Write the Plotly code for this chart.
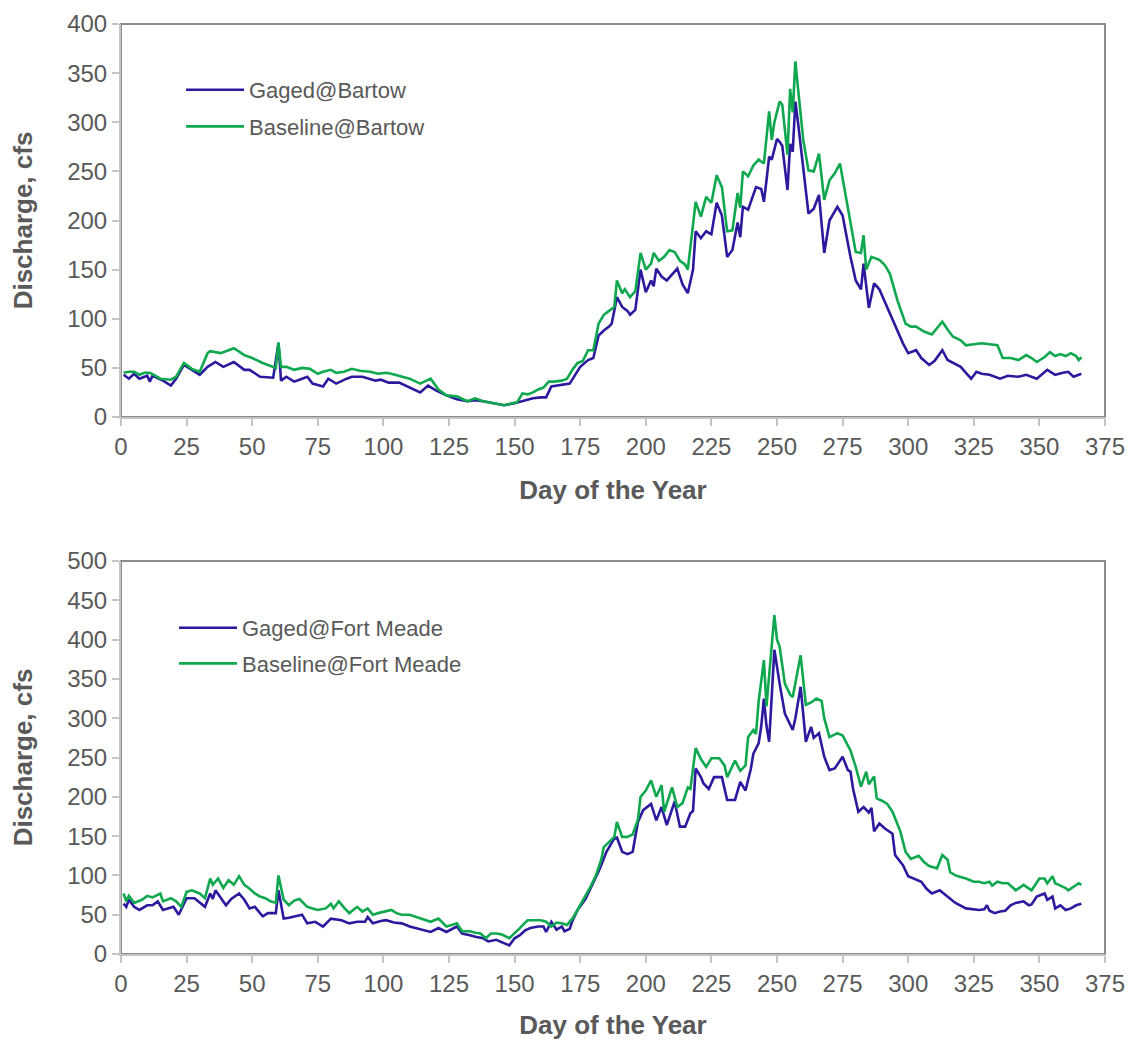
import plotly.graph_objects as go

# ---------------- Data ----------------
bartow_gaged_days = [1,3,5,7,10,11,12,16,19,21,24,27,30,33,36,39,43,47,49,53,58,60,61,63,66,68,71,73,77,79,82,86,88,92,97,99,102,106,110,114,117,120,124,128,132,135,138,142,146,150,154,157,160,162,164,167,171,175,178,180,182,184,186,187,189,191,193,194,196,198,200,202,203,204,206,208,210,212,214,216,218,219,221,223,225,227,229,231,233,235,236,237,239,242,244,245,246,247,248,250,251,252,254,255,256,257,258,260,262,264,266,268,270,273,275,278,280,282,283,285,287,289,292,294,296,298,300,303,305,308,310,313,315,317,320,322,324,326,328,331,335,338,342,345,349,353,356,359,361,363,366]
bartow_gaged = [43,39,44,39,42,36,42,37,32,39,53,48,43,51,56,51,56,48,48,41,40,75,37,41,36,38,41,34,31,39,34,39,41,41,37,38,35,35,30,25,32,27,22,18,16,17,16,14,12,14,17,19,20,20,31,32,34,51,58,60,83,88,92,95,122,112,108,104,109,150,127,139,133,151,143,139,145,151,135,126,150,189,182,189,186,218,205,163,170,198,183,214,211,234,232,219,241,265,262,283,280,276,231,278,270,321,300,255,207,212,226,167,200,214,205,163,139,130,156,111,136,130,112,100,88,75,65,68,60,53,57,68,58,55,51,45,39,46,44,43,39,42,41,43,39,48,43,45,46,41,44]

bartow_base_days = [1,3,5,7,9,11,13,15,19,21,24,27,30,32,33,34,38,41,43,47,50,54,58,59,60,61,63,66,69,72,75,77,80,82,85,88,91,95,98,101,103,106,110,114,118,121,124,128,132,135,138,142,146,149,151,153,155,157,159,161,163,165,168,170,172,174,176,178,180,182,184,186,188,189,191,192,194,196,198,200,202,203,205,207,209,211,213,215,216,219,221,223,225,227,229,231,233,235,236,237,239,241,243,245,246,247,248,249,251,252,254,255,256,257,258,260,262,264,266,268,270,272,274,276,279,280,282,283,284,286,289,291,293,296,299,301,303,306,309,311,313,315,317,320,322,325,328,331,334,336,339,342,345,347,349,352,354,356,358,360,362,364,365,366]
bartow_base = [45,46,46,43,45,45,42,39,38,41,55,49,46,60,65,67,65,68,70,63,60,55,51,50,76,51,51,48,50,49,44,46,48,45,46,49,47,46,44,45,44,42,39,34,39,28,22,21,16,19,16,14,12,14,15,24,23,25,28,30,36,36,37,39,48,55,57,68,68,95,104,108,112,139,126,130,122,128,167,150,156,167,159,163,170,168,159,155,150,219,204,224,218,246,234,189,190,228,213,250,245,256,262,258,287,311,282,300,321,318,267,334,310,362,335,282,251,250,268,221,241,248,258,227,183,168,167,185,150,163,160,155,146,118,95,92,92,87,84,90,97,89,82,78,73,74,75,74,73,60,60,58,63,60,56,61,66,62,64,62,65,62,58,61]

meade_gaged_days = [1,2,3,5,7,10,12,14,16,18,20,22,25,28,30,32,34,35,36,38,40,42,45,47,49,51,54,56,59,60,62,64,67,69,71,74,77,80,84,87,90,93,94,96,99,101,104,107,110,114,118,121,124,128,130,133,135,138,140,143,146,148,150,152,154,156,159,161,162,164,166,168,169,171,172,174,177,180,182,183,185,188,189,191,193,195,197,199,202,204,206,208,211,213,215,217,218,219,221,222,224,226,229,231,234,236,238,240,241,243,244,245,246,247,249,251,253,256,257,259,261,263,264,266,268,270,272,275,277,278,279,281,283,285,286,287,289,291,294,295,298,300,302,305,307,309,312,315,318,322,325,327,329,330,331,333,335,337,339,341,344,346,347,349,352,353,355,356,358,360,362,364,366]
meade_gaged = [64,60,69,60,56,62,62,67,56,58,60,50,71,71,65,60,77,70,81,71,62,70,77,69,58,60,48,52,52,81,45,46,48,50,39,41,35,45,43,39,41,41,47,39,42,43,40,39,35,31,28,33,28,35,26,24,22,20,16,18,14,11,20,24,30,33,35,35,28,41,31,35,29,32,42,56,70,90,105,113,130,147,148,130,127,130,168,183,191,170,187,164,194,162,162,179,182,236,225,217,210,225,225,196,196,219,208,235,255,268,290,325,290,270,387,344,306,285,300,340,270,289,275,281,251,234,236,251,234,232,210,181,187,180,186,156,166,160,153,126,113,99,96,92,83,77,81,73,65,58,57,56,57,62,55,52,54,55,62,65,67,62,63,73,77,69,73,58,62,56,58,62,64]

meade_base_days = [1,2,3,5,8,10,12,15,16,19,21,23,25,27,30,32,34,35,37,39,41,43,45,47,49,51,53,55,57,59,60,62,64,66,68,71,73,75,78,80,81,83,85,87,90,92,94,96,98,100,103,105,107,110,114,118,121,124,126,128,130,133,135,137,139,141,143,145,148,150,152,154,155,158,160,162,164,166,168,170,172,174,176,179,181,183,184,186,188,189,191,193,195,197,198,200,202,204,206,207,209,210,212,214,216,217,219,221,223,225,228,230,231,233,234,236,238,239,241,242,243,245,246,249,250,251,253,255,256,259,261,263,265,267,268,270,272,273,275,277,278,280,282,284,285,287,288,290,292,294,297,299,301,304,306,308,311,313,315,316,318,320,322,325,327,329,331,332,334,336,338,341,344,347,350,352,353,355,356,358,360,361,363,365,366]
meade_base = [77,67,74,65,69,74,72,77,67,71,67,60,79,81,77,71,96,88,96,84,94,88,99,88,83,77,73,71,67,65,100,69,62,68,70,60,58,56,58,64,58,67,59,52,60,54,58,50,52,54,56,52,50,50,45,41,45,35,37,39,29,29,27,26,20,26,26,25,20,26,33,40,43,43,43,41,35,40,39,37,45,56,68,86,100,120,136,142,149,168,149,149,152,171,200,208,221,200,215,181,200,212,187,192,212,210,262,248,238,249,249,240,225,238,246,233,240,276,285,280,321,374,315,431,400,391,344,330,327,380,317,320,325,322,300,276,280,281,278,266,259,238,213,232,216,226,198,195,191,181,156,130,121,125,117,112,109,126,120,104,100,98,96,92,92,90,92,87,92,90,90,81,88,81,96,96,90,99,90,87,84,81,86,90,88]

x_ticks = [0, 25, 50, 75, 100, 125, 150, 175, 200, 225, 250, 275, 300, 325, 350, 375]
top_y_ticks = [0, 50, 100, 150, 200, 250, 300, 350, 400]
bottom_y_ticks = [0, 50, 100, 150, 200, 250, 300, 350, 400, 450, 500]

# ---------------- Styles ----------------
BLUE = "#2B1A9E"
GREEN = "#0FA84F"
FONT = "Liberation Sans"
TICK_COLOR = "#595959"
AXIS_LIGHT = "#C4C4C4"
FRAME = "#8C8C8C"
OFF = 8                      # page body margin
W, H = 1133 - OFF, 1040 - OFF


def px_x(v):
    return (v - OFF) / W


def px_y(v):
    return 1 - (v - OFF) / H


fig = go.Figure()
fig.add_trace(go.Scatter(x=bartow_gaged_days, y=bartow_gaged, mode="lines", name="Gaged@Bartow",
                         line=dict(color=BLUE, width=2.6), xaxis="x", yaxis="y", legend="legend",
                         legendgroup="a"))
fig.add_trace(go.Scatter(x=bartow_base_days, y=bartow_base, mode="lines", name="Baseline@Bartow",
                         line=dict(color=GREEN, width=2.6), xaxis="x", yaxis="y", legend="legend",
                         legendgroup="b"))
fig.add_trace(go.Scatter(x=meade_gaged_days, y=meade_gaged, mode="lines", name="Gaged@Fort Meade",
                         line=dict(color=BLUE, width=2.6), xaxis="x2", yaxis="y2", legend="legend2",
                         legendgroup="c"))
fig.add_trace(go.Scatter(x=meade_base_days, y=meade_base, mode="lines", name="Baseline@Fort Meade",
                         line=dict(color=GREEN, width=2.6), xaxis="x2", yaxis="y2", legend="legend2",
                         legendgroup="d"))

x0, x1 = px_x(121), px_x(1105)
top_dom = [px_y(417), px_y(24)]
bot_dom = [px_y(954), px_y(561)]


def xaxis(anchor):
    return dict(domain=[x0, x1], anchor=anchor, range=[0, 375], tickvals=x_ticks, automargin=False,
                showgrid=False, zeroline=False, showline=True, linecolor=AXIS_LIGHT, linewidth=2,
                ticks="outside", ticklen=7, tickwidth=2, tickcolor=AXIS_LIGHT,
                tickfont=dict(family=FONT, size=24, color=TICK_COLOR),
                title=dict(text="<b>Day of the Year</b>", font=dict(family=FONT, size=26, color=TICK_COLOR),
                           standoff=22))


def yaxis(anchor, dom, rng, ticks):
    return dict(domain=dom, anchor=anchor, range=rng, tickvals=ticks, automargin=False,
                showgrid=False, zeroline=False, showline=True, linecolor=AXIS_LIGHT, linewidth=2,
                ticks="outside", ticklen=7, tickwidth=2, tickcolor=AXIS_LIGHT,
                tickfont=dict(family=FONT, size=24, color=TICK_COLOR),
                title=dict(text="<b>Discharge, cfs</b>", font=dict(family=FONT, size=26, color=TICK_COLOR),
                           standoff=28))


fig.update_layout(
    width=W, height=H, margin=dict(l=0, r=0, t=0, b=0, autoexpand=False),
    paper_bgcolor="white", plot_bgcolor="white",
    xaxis=xaxis("y"), yaxis=yaxis("x", top_dom, [0, 400], top_y_ticks),
    xaxis2=xaxis("y2"), yaxis2=yaxis("x2", bot_dom, [0, 500], bottom_y_ticks),
    legend=dict(x=173 / W, y=1 - 61 / H, xanchor="left", yanchor="top", bgcolor="rgba(0,0,0,0)",
                font=dict(family=FONT, size=22, color=TICK_COLOR), tracegroupgap=5, itemwidth=58),
    legend2=dict(x=166 / W, y=1 - 599 / H, xanchor="left", yanchor="top", bgcolor="rgba(0,0,0,0)",
                 font=dict(family=FONT, size=22, color=TICK_COLOR), tracegroupgap=4, itemwidth=58),
    showlegend=True,
    shapes=[
        dict(type="rect", xref="paper", yref="paper", x0=x0, x1=x1, y0=top_dom[0], y1=top_dom[1],
             line=dict(color=FRAME, width=2), layer="below"),
        dict(type="rect", xref="paper", yref="paper", x0=x0, x1=x1, y0=bot_dom[0], y1=bot_dom[1],
             line=dict(color=FRAME, width=2), layer="below"),
    ],
)

fig.write_html("out.html")
